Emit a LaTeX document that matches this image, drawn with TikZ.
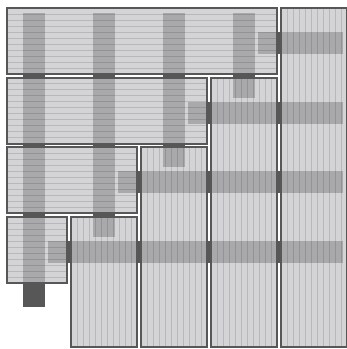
\documentclass[tikz,border=0pt]{standalone}
\definecolor{boxgray}{HTML}{D4D4D6}
\definecolor{edgegray}{HTML}{575757}
\definecolor{stripegray}{HTML}{B8B8BB}
\begin{document}
\begin{tikzpicture}[x=1pt,y=-1pt,
  boxfill/.style={fill=boxgray},
  boxline/.style={draw=edgegray,line width=2pt},
  stripe/.style={draw=stripegray,line width=0.9pt},
  band/.style={fill=black,fill opacity=0.2},
  bar/.style={fill=edgegray}]
\useasboundingbox (0,0) rectangle (347,349);
% rows (horizontal stripes)
\foreach \i in {0,...,3}{
  \pgfmathsetmacro{\T}{8+69.7*\i}
  \pgfmathsetmacro{\R}{277-70*\i}
  \fill[boxfill] (7,\T) rectangle (\R,\T+66);
  \foreach \k in {1,...,10} \draw[stripe] (8,\T+6*\k) -- (\R-1,\T+6*\k);
}
% columns (vertical stripes)
\foreach \j in {0,...,3}{
  \pgfmathsetmacro{\L}{71+70*\j}
  \pgfmathsetmacro{\T}{8+69.7*(3-\j)}
  \fill[boxfill] (\L,\T) rectangle (\L+66,347);
  \foreach \k in {1,...,10} \draw[stripe] (\L+6*\k,\T+1) -- (\L+6*\k,346);
}
% vertical bands
\foreach \k in {0,...,3}{
  \pgfmathsetmacro{\X}{23+70*\k}
  \pgfmathsetmacro{\E}{\k==0 ? 8+69.7*3+66 : 8+69.7*(4-\k)+20}
  \fill[band] (\X,13) rectangle (\X+22,\E);
}
% horizontal bands
\foreach \i in {0,...,3}{
  \pgfmathsetmacro{\T}{8+69.7*\i}
  \pgfmathsetmacro{\S}{71+70*(3-\i)-23}
  \fill[band] (\S,\T+24) rectangle (343,\T+46);
}
% borders
\foreach \i in {0,...,3}{
  \pgfmathsetmacro{\T}{8+69.7*\i}
  \pgfmathsetmacro{\R}{277-70*\i}
  \draw[boxline] (7,\T) rectangle (\R,\T+66);
}
\foreach \j in {0,...,3}{
  \pgfmathsetmacro{\L}{71+70*\j}
  \pgfmathsetmacro{\T}{8+69.7*(3-\j)}
  \draw[boxline] (\L,\T) rectangle (\L+66,347);
}
% dark bars across vertical gaps
\foreach \k/\n in {0/2,1/2,2/1,3/0}{
  \pgfmathsetmacro{\X}{23+70*\k}
  \foreach \i in {0,...,\n}{
    \pgfmathsetmacro{\A}{8+69.7*\i+65}
    \pgfmathsetmacro{\B}{8+69.7*(\i+1)+1}
    \fill[bar] (\X,\A) rectangle (\X+22,\B);
  }
}
\fill[bar] (23,8+69.7*3+65) rectangle (45,307);
% dark bars across horizontal gaps
\foreach \i/\s in {0/3,1/2,2/1,3/0}{
  \pgfmathsetmacro{\T}{8+69.7*\i}
  \foreach \j in {\s,...,3}{
    \pgfmathsetmacro{\L}{71+70*\j}
    \fill[bar] (\L-5,\T+24) rectangle (\L+1,\T+46);
  }
}
\end{tikzpicture}
\end{document}
